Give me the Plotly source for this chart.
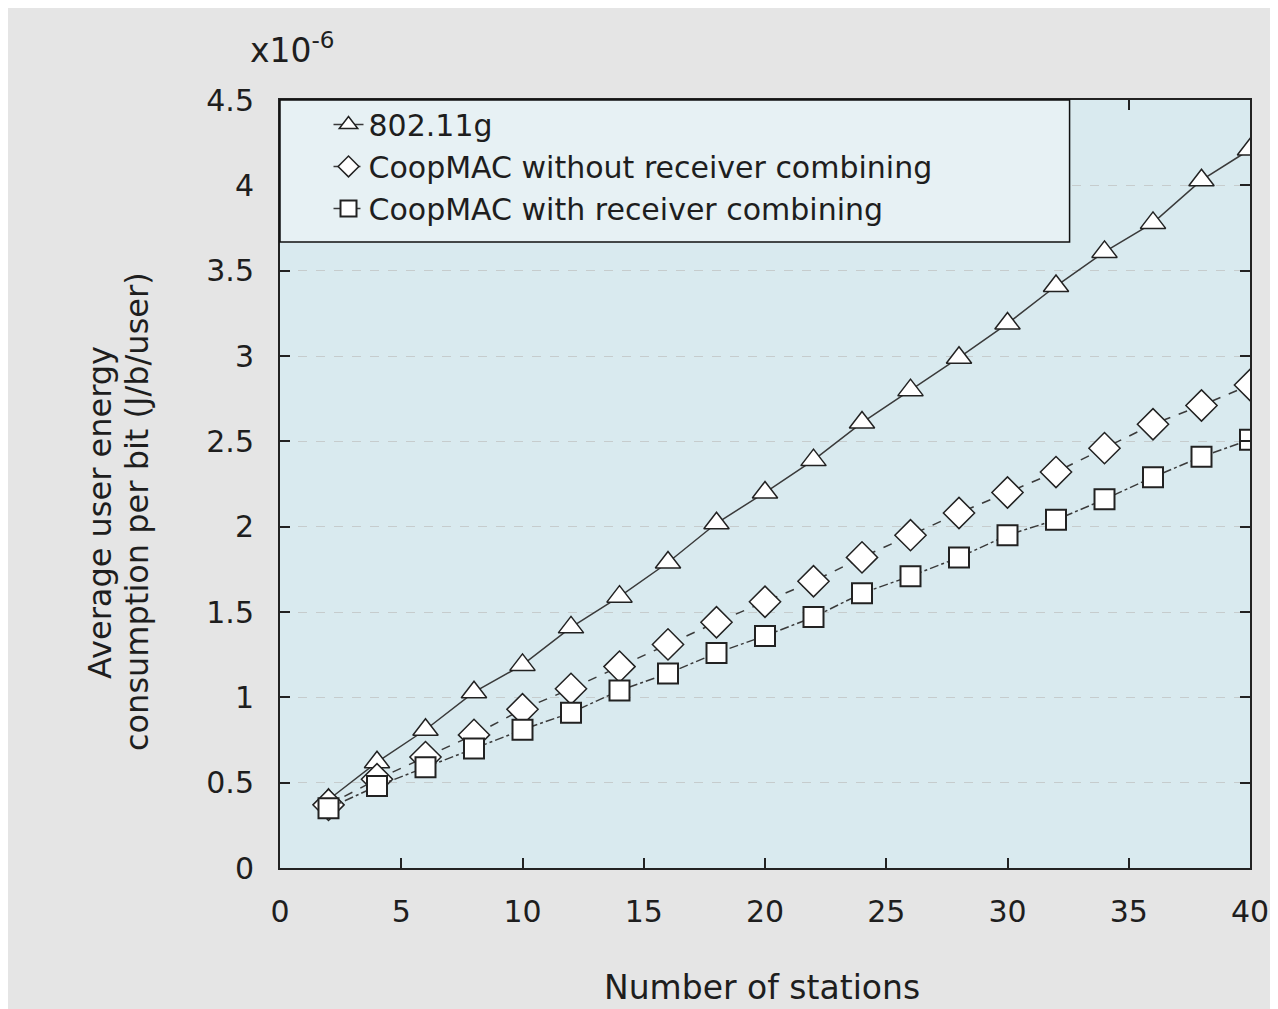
import plotly.graph_objects as go

stations = [2, 4, 6, 8, 10, 12, 14, 16, 18, 20, 22, 24, 26, 28, 30, 32, 34, 36, 38, 40]
e_80211g = [0.40, 0.62, 0.81, 1.03, 1.19, 1.41, 1.59, 1.79, 2.02, 2.20, 2.39, 2.61, 2.80, 2.99, 3.19, 3.41, 3.61, 3.78, 4.03, 4.21]
e_coop_no_comb = [0.37, 0.52, 0.65, 0.78, 0.93, 1.05, 1.18, 1.31, 1.44, 1.56, 1.68, 1.82, 1.95, 2.08, 2.20, 2.32, 2.46, 2.60, 2.71, 2.83]
e_coop_comb = [0.35, 0.48, 0.59, 0.70, 0.81, 0.91, 1.04, 1.14, 1.26, 1.36, 1.47, 1.61, 1.71, 1.82, 1.95, 2.04, 2.16, 2.29, 2.41, 2.51]

names = ["802.11g", "CoopMAC without receiver combining", "CoopMAC with receiver combining"]
y_ticks = [0, 0.5, 1, 1.5, 2, 2.5, 3, 3.5, 4, 4.5]
y_ticktext = ["0", "0.5", "1", "1.5", "2", "2.5", "3", "3.5", "4", "4.5"]
x_ticks = [0, 5, 10, 15, 20, 25, 30, 35, 40]
x_title = "Number of stations"
y_title_lines = ["Average user energy", "consumption per bit (J/b/user)"]
exp_label = "x10<sup>-6</sup>"

FONT = "DejaVu Sans"
TXT = "#1e1e1e"
LINE = "#3a3a3a"

fig = go.Figure()
fig.add_trace(go.Scatter(
    x=stations, y=e_80211g, name=names[0], mode="lines+markers",
    line=dict(color=LINE, width=1.5),
    marker=dict(symbol="triangle-up", size=22, color="white", line=dict(color="#222", width=1.5)),
))
fig.add_trace(go.Scatter(
    x=stations, y=e_coop_no_comb, name=names[1], mode="lines+markers",
    line=dict(color=LINE, width=1.5, dash="dash"),
    marker=dict(symbol="diamond", size=24, color="white", line=dict(color="#222", width=1.5)),
))
fig.add_trace(go.Scatter(
    x=stations, y=e_coop_comb, name=names[2], mode="lines+markers",
    line=dict(color=LINE, width=1.5, dash="dashdot"),
    marker=dict(symbol="square", size=20, color="white", line=dict(color="#222", width=2)),
))

# legend box
fig.add_shape(type="rect", xref="paper", yref="paper",
              x0=0, x1=0.814, y0=0.815, y1=1,
              fillcolor="#e7f1f4", line=dict(color="#111", width=1.5), layer="above")

fig.add_annotation(xref="paper", yref="paper", x=-0.033, y=1.036,
                   xanchor="left", yanchor="bottom", showarrow=False,
                   text=exp_label, font=dict(family=FONT, size=33, color=TXT))
for xpos, line_text in zip([-0.1856, -0.1474], y_title_lines):
    fig.add_annotation(xref="paper", yref="paper", x=xpos, y=0.4635,
                       xanchor="center", yanchor="middle", showarrow=False, textangle=-90,
                       text=line_text, font=dict(family=FONT, size=32, color=TXT))
fig.add_annotation(xref="paper", yref="paper", x=0.497, y=-0.155,
                   xanchor="center", yanchor="middle", showarrow=False,
                   text=x_title, font=dict(family=FONT, size=33, color=TXT))

fig.update_layout(
    width=1278, height=1009,
    margin=dict(l=272, r=36, t=92, b=149),
    paper_bgcolor="#e5e5e5",
    plot_bgcolor="#d9eaef",
    font=dict(family=FONT, size=30, color=TXT),
    showlegend=True,
    legend=dict(x=0.05, y=1.002, xanchor="left", yanchor="top",
                bgcolor="rgba(0,0,0,0)", borderwidth=0,
                font=dict(family=FONT, size=30, color=TXT),
                tracegroupgap=0, itemsizing="trace"),
    xaxis=dict(range=[0, 40], tickvals=x_ticks, ticks="inside", ticklen=10,
               tickcolor="#222", tickwidth=1.5, showline=True, linecolor="#222",
               linewidth=2, mirror="ticks", showgrid=False, zeroline=False,
               ticklabelstandoff=16, tickfont=dict(size=30)),
    yaxis=dict(range=[0, 4.5], tickvals=y_ticks, ticktext=y_ticktext,
               ticks="inside", ticklen=10, tickcolor="#222", tickwidth=1.5,
               showline=True, linecolor="#222", linewidth=2, mirror="ticks",
               showgrid=True, gridcolor="#c6cccd", griddash="dash", gridwidth=1,
               zeroline=False, ticklabelstandoff=18, tickfont=dict(size=30)),
)

fig.write_html("out.html")
